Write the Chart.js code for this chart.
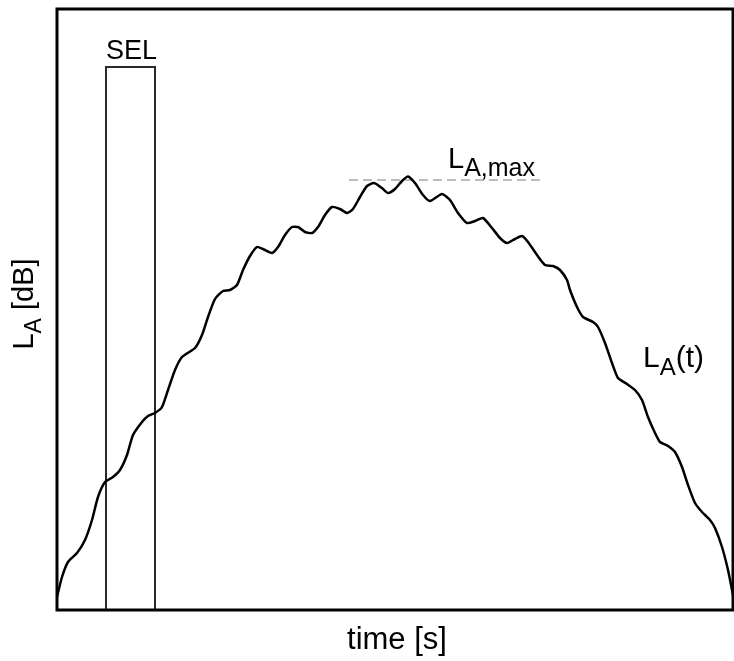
<!DOCTYPE html>
<html>
<head>
<meta charset="utf-8">
<script src="https://cdn.jsdelivr.net/npm/chart.js@4/dist/chart.umd.min.js"></script>
<style>
  html, body { margin: 0; padding: 0; background: #fff; }
  #wrap { width: 734px; height: 661px; }
</style>
</head>
<body>
<div id="wrap"><canvas id="laChart"></canvas></div>
<script>
// time axis (s) and A-weighted level (dB above floor)
const time = [0, 0.5, 1.1, 2.0, 2.8, 3.5, 4.1, 4.8, 5.6, 6.3, 7.0, 7.6, 8.5, 9.1, 9.8, 10.5,
  11.1, 11.8, 12.5, 13.8, 14.5, 15.1, 15.8, 16.6, 17.3, 18.0, 18.6, 19.3, 20.0, 20.6, 21.5,
  22.1, 22.8, 23.5, 24.1, 24.8, 25.5, 26.1, 26.8, 27.5, 28.3, 29.0, 29.6, 30.3, 31.0, 31.7,
  32.5, 33.1, 33.8, 34.5, 35.1, 35.8, 36.6, 37.3, 38.5, 39.3, 40.1, 41.0, 41.8, 42.6, 43.5,
  44.3, 45.0, 45.8, 46.5, 47.1, 48.0, 48.8, 49.6, 50.3, 51.0, 51.3, 52.0, 52.6, 53.6, 54.1,
  54.8, 55.5, 56.1, 57.0, 57.8, 58.5, 59.1, 59.8, 60.3, 61.1, 61.8, 62.5, 63.1, 63.8, 64.5,
  65.3, 65.8, 66.5, 67.1, 67.6];
const level = [1.3, 3.3, 4.8, 5.7, 7.0, 9.0, 11.3, 12.8, 13.3, 14.0, 15.5, 17.5, 18.8, 19.4, 19.7, 20.3,
  22.0, 24.0, 25.3, 26.2, 27.5, 29.3, 31.1, 31.9, 32.0, 32.5, 34.0, 35.4, 36.3, 36.1, 35.7,
  36.3, 37.5, 38.3, 38.3, 37.8, 37.7, 38.3, 39.5, 40.3, 40.1, 39.7, 40.1, 41.3, 42.4, 42.7,
  42.2, 41.7, 42.1, 42.9, 43.35, 42.7, 41.5, 40.9, 41.6, 41.0, 39.7, 38.7, 38.9, 39.2, 38.2,
  37.2, 36.7, 37.1, 37.4, 36.8, 35.5, 34.5, 34.4, 34.0, 33.0, 32.0, 30.3, 29.3, 28.8, 28.3,
  26.7, 24.7, 23.2, 22.6, 22.0, 21.0, 19.3, 17.7, 16.8, 16.4, 15.8, 14.3, 12.5, 10.7, 9.8,
  9.0, 8.2, 6.3, 4.0, 1.5];

// SEL integration window
const selTime = [4.9, 4.9, 9.8, 9.8];
const selLevel = [0, 54.3, 54.3, 0];

// L_A,max reference line
const maxTime = [29.2, 48.7];
const maxLevel = [43.0, 43.0];

const FONT = '"Liberation Sans", Arial, sans-serif';

function pts(xs, ys) {
  return xs.map((x, i) => ({ x: x, y: ys[i] }));
}

// text with a subscript part, drawn at canvas position
function subText(ctx, x, y, main, sub, tail, size, subSize, drop) {
  ctx.font = size + 'px ' + FONT;
  ctx.fillText(main, x, y);
  let w = ctx.measureText(main).width;
  ctx.font = subSize + 'px ' + FONT;
  ctx.fillText(sub, x + w, y + drop);
  w += ctx.measureText(sub).width;
  if (tail) {
    ctx.font = size + 'px ' + FONT;
    ctx.fillText(tail, x + w, y);
    w += ctx.measureText(tail).width;
  }
  return w;
}

function textWidth(ctx, parts) {
  let w = 0;
  parts.forEach(p => {
    ctx.font = p[1] + 'px ' + FONT;
    w += ctx.measureText(p[0]).width;
  });
  return w;
}

const labelPlugin = {
  id: 'labels',
  afterDatasetsDraw(chart) {
    const ctx = chart.ctx;
    const a = chart.chartArea;
    const xs = chart.scales.x;
    const ys = chart.scales.y;
    ctx.save();
    // frame
    ctx.strokeStyle = '#000';
    ctx.lineWidth = 3;
    ctx.strokeRect(a.left, a.top, a.right - a.left, a.bottom - a.top);

    ctx.fillStyle = '#000';
    ctx.textBaseline = 'alphabetic';

    // SEL
    ctx.font = '27px ' + FONT;
    ctx.textAlign = 'center';
    ctx.fillText('SEL', xs.getPixelForValue((selTime[0] + selTime[2]) / 2) + 1, ys.getPixelForValue(selLevel[1]) - 8);

    ctx.textAlign = 'left';
    // L_A,max
    subText(ctx, xs.getPixelForValue(39.1), ys.getPixelForValue(maxLevel[0]) - 12, 'L', 'A,max', '', 29, 25, 8);
    // L_A(t)
    subText(ctx, xs.getPixelForValue(58.6), ys.getPixelForValue(24.3), 'L', 'A', '(t)', 30, 24, 8);
    ctx.restore();

    // axis titles
    ctx.save();
    ctx.fillStyle = '#000';
    ctx.font = '31px ' + FONT;
    ctx.textAlign = 'center';
    ctx.fillText('time [s]', (a.left + a.right) / 2 + 2, a.bottom + 39);
    ctx.restore();

    ctx.save();
    ctx.fillStyle = '#000';
    ctx.translate(33, 304);
    ctx.rotate(-Math.PI / 2);
    ctx.textAlign = 'left';
    const w = textWidth(ctx, [['L', 29], ['A', 23], [' [dB]', 29]]);
    subText(ctx, -w / 2, 0, 'L', 'A', ' [dB]', 29, 23, 8);
    ctx.restore();
  }
};

new Chart(document.getElementById('laChart'), {
  type: 'scatter',
  data: {
    datasets: [
      {
        label: 'L_A(t)',
        data: pts(time, level),
        showLine: true,
        borderColor: '#000',
        borderWidth: 2.5,
        pointRadius: 0,
        tension: 0.2,
        clip: false
      },
      {
        label: 'SEL',
        data: pts(selTime, selLevel),
        showLine: true,
        borderColor: '#2a2a2a',
        borderWidth: 2,
        pointRadius: 0,
        tension: 0
      },
      {
        label: 'L_A,max',
        data: pts(maxTime, maxLevel),
        showLine: true,
        borderColor: '#bdbdbd',
        borderWidth: 2,
        borderDash: [9, 5],
        pointRadius: 0,
        tension: 0
      }
    ]
  },
  options: {
    responsive: true,
    maintainAspectRatio: false,
    animation: false,
    layout: { padding: { left: 57, top: 9, right: 1, bottom: 51 } },
    plugins: {
      legend: { display: false },
      tooltip: { enabled: false }
    },
    scales: {
      x: { type: 'linear', min: 0, max: 67.6, display: false },
      y: { type: 'linear', min: 0, max: 60.1, display: false }
    }
  },
  plugins: [labelPlugin]
});
</script>
</body>
</html>
